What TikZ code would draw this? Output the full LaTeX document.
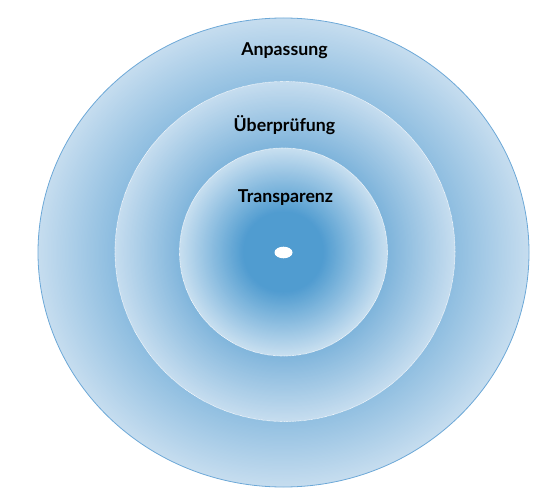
\documentclass[tikz,border=0pt]{standalone}
\usepackage{fontspec}
\setmainfont{Lato}
\definecolor{ringlight}{HTML}{C6DDEF}
\definecolor{ringdarkA}{HTML}{8ABBDF}
\definecolor{ringdarkB}{HTML}{7EB4DB}
\definecolor{coredark}{HTML}{509CD0}
\definecolor{corelight}{HTML}{C8DFF0}
\definecolor{rimblue}{HTML}{6CA8D7}
\tikzset{
  lbl/.style={font=\fontsize{17.8pt}{20pt}\selectfont\bfseries, text=black, inner sep=0pt, anchor=base},
  dotrim/.style={draw=white, line width=0.7pt, dash pattern=on 0.5pt off 0.7pt}
}
\begin{document}
\begin{tikzpicture}[x=1bp,y=-1bp]
\useasboundingbox (0,0) rectangle (553,502);
\coordinate (co) at (283.5,252.5);
\coordinate (cm) at (285,251.5);
\coordinate (ci) at (283.5,252);
% outer disk: light rim to darker towards the middle disk
\foreach \k in {0,...,60}{
  \pgfmathsetmacro\f{1-\k*0.32/60}
  \pgfmathsetmacro\p{100*\k/60}
  \fill[ringdarkA!\p!ringlight] (co) ellipse [x radius=245.5*\f, y radius=234.5*\f];
}
\draw[rimblue, line width=0.8pt] (co) ellipse [x radius=245.5, y radius=234.5];
% middle disk
\foreach \k in {0,...,60}{
  \pgfmathsetmacro\r{170-\k*67/60}
  \pgfmathsetmacro\p{100*\k/60}
  \fill[ringdarkB!\p!ringlight] (cm) circle [radius=\r];
}
\draw[dotrim] (cm) circle [radius=170];
% inner disk
\foreach \k in {0,...,60}{
  \pgfmathsetmacro\r{104-\k*64/60}
  \pgfmathsetmacro\p{100*\k/60}
  \fill[coredark!\p!corelight] (ci) circle [radius=\r];
}
\draw[dotrim] (ci) circle [radius=104];
% centre dot
\fill[white] (co) ellipse [x radius=9, y radius=5.8];
% labels
\node[lbl] (anp) at (284.5,56) {Anpassung};
\node[lbl] (ueb) at (284.5,132) {Überprüfung};
\node[lbl] (tra) at (285.5,203) {Transparenz};
\end{tikzpicture}
\end{document}
